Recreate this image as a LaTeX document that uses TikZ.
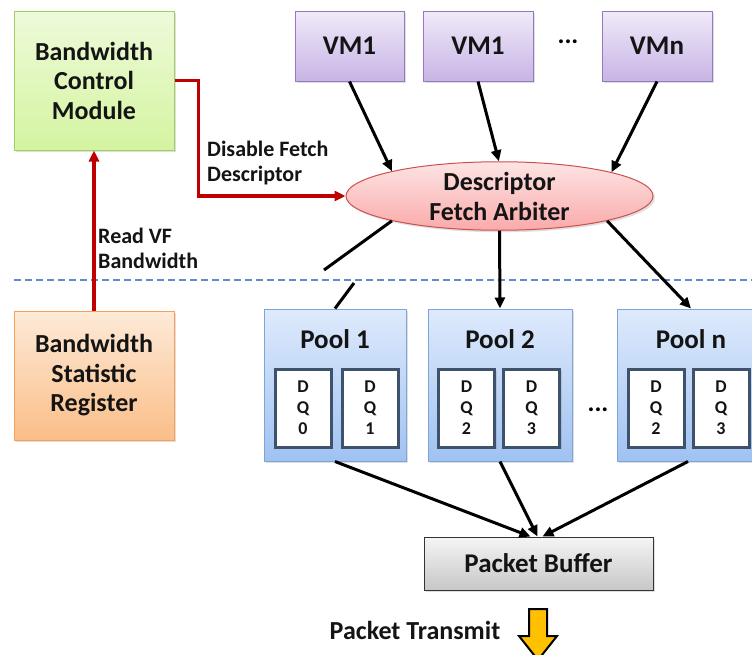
\documentclass[tikz,border=0pt]{standalone}
\usepackage{fontspec}
\setmainfont{Carlito}
\usetikzlibrary{arrows.meta,shapes.geometric,shadows}
\definecolor{gtop}{RGB}{238,250,218}
\definecolor{gbot}{RGB}{212,244,160}
\definecolor{gbrd}{RGB}{160,205,100}
\definecolor{otop}{RGB}{253,234,216}
\definecolor{obot}{RGB}{251,190,136}
\definecolor{obrd}{RGB}{247,160,90}
\definecolor{ptop}{RGB}{240,234,248}
\definecolor{pbot}{RGB}{200,180,230}
\definecolor{pbrd}{RGB}{150,120,190}
\definecolor{rtop}{RGB}{253,228,228}
\definecolor{rbot}{RGB}{250,170,170}
\definecolor{rbrd}{RGB}{205,80,80}
\definecolor{btop}{RGB}{222,234,252}
\definecolor{bbot}{RGB}{160,194,242}
\definecolor{bbrd}{RGB}{125,165,215}
\definecolor{dqbrd}{RGB}{62,82,108}
\definecolor{ctrlred}{RGB}{192,0,0}
\definecolor{dashblue}{RGB}{95,140,205}
\definecolor{yel}{RGB}{255,192,0}
\definecolor{txt}{RGB}{20,20,20}
\tikzset{
  shad/.style={drop shadow={opacity=0.25,shadow xshift=2pt,shadow yshift=-2pt}},
  lbl/.style={font=\fontsize{26}{29.5}\selectfont\bfseries, text=txt, align=center, inner sep=0pt},
  gbox/.style={shad, draw=gbrd, line width=1pt, top color=gtop, bottom color=gbot, minimum width=160pt, minimum height=139pt, lbl},
  obox/.style={shad, draw=obrd, line width=1pt, top color=otop, bottom color=obot, minimum width=160pt, minimum height=129pt, lbl},
  vmbox/.style={shad, draw=pbrd, line width=1pt, top color=ptop, bottom color=pbot, minimum width=110pt, minimum height=70pt, lbl, font=\fontsize{27}{30}\selectfont\bfseries},
  arbiter/.style={shad, ellipse, draw=rbrd, line width=1pt, top color=rtop, bottom color=rbot, minimum width=307pt, minimum height=68pt, lbl, font=\fontsize{26}{30}\selectfont\bfseries},
  poolbox/.style={shad, draw=bbrd, line width=1pt, top color=btop, bottom color=bbot, minimum height=152pt, inner sep=0pt},
  pooltitle/.style={font=\fontsize{27}{30}\selectfont\bfseries, text=txt, inner sep=0pt},
  dqbox/.style={shad, draw=dqbrd, line width=3pt, fill=white, minimum width=56pt, minimum height=78pt, inner sep=0pt, align=center, text=txt, font=\fontsize{18}{21}\selectfont\bfseries},
  pbbox/.style={shad, draw=black!80, line width=1pt, top color=black!4, bottom color=black!22, minimum width=229pt, minimum height=53pt, lbl, font=\fontsize{27}{29}\selectfont\bfseries},
  conn/.style={line width=3pt, -{Triangle[length=11pt,width=10pt]}},
  plain/.style={line width=3pt},
  redconn/.style={draw=ctrlred, line width=3.5pt, -{Triangle[length=11pt,width=10pt]}},
  note/.style={font=\fontsize{22}{25}\selectfont\bfseries, text=txt, align=left, inner sep=0pt},
  dotsl/.style={font=\fontsize{26}{28}\selectfont\bfseries, inner sep=0pt}
}
\begin{document}
\begin{tikzpicture}[x=1pt,y=-1pt]
\clip (0,0) rectangle (752,654);
\fill[white] (0,0) rectangle (752,654);
% left column
\node[gbox] (bcm) at (94,80.5) {Bandwidth\\Control\\Module};
\node[obox] (bsr) at (94,375.5) {Bandwidth\\Statistic\\Register};
% VMs
\node[vmbox, minimum width=109pt] (vma) at (349.5,46) {VM1};
\node[vmbox] (vmb) at (478,46) {VM1};
\node[vmbox] (vmn) at (657,46) {VMn};
\node[dotsl] (vdots) at (568,42) {...};
% arbiter
\node[arbiter] (arb) at (499.5,196) {Descriptor\\Fetch Arbiter};
% dashed separator
\coordinate (sepl) at (14,280);
\coordinate (sepr) at (752,280);
\draw[dashblue, line width=1.6pt, dash pattern=on 7pt off 4pt] (sepl) -- (sepr);
% pools
\node[poolbox, minimum width=142pt] (pool1) at (335,385) {};
\node[poolbox, minimum width=144pt] (pool2) at (500,385) {};
\node[poolbox, minimum width=148pt] (pooln) at (691,385) {};
\node[pooltitle] (p1t) at (335,339) {Pool 1};
\node[pooltitle] (p2t) at (500,339) {Pool 2};
\node[pooltitle] (pnt) at (691,339) {Pool n};
\node[dqbox] (dq0) at (303,408) {D\\Q\\0};
\node[dqbox] (dq1) at (370,408) {D\\Q\\1};
\node[dqbox] (dq2) at (466.5,408) {D\\Q\\2};
\node[dqbox] (dq3) at (531.5,408) {D\\Q\\3};
\node[dqbox] (dqn2) at (656,408) {D\\Q\\2};
\node[dqbox] (dqn3) at (721,408) {D\\Q\\3};
\node[dotsl] (pdots) at (598,410) {...};
% packet buffer
\node[pbbox] (pb) at (538.5,563.5) {Packet Buffer};
\node[lbl] (ptx) at (415,630) {Packet Transmit};
\fill[yel, draw=black, line width=2pt] (529,609) -- (547,609) -- (547,636) -- (557,636) -- (538,660) -- (519,636) -- (529,636) -- cycle;
% VM arrows
\draw[conn] (vma.south) -- (arb.167);
\draw[conn] (vmb.south) -- (arb.91);
\draw[conn] (vmn.south) -- (arb.12);
% arbiter to pools
\coordinate (brk1) at (324,270);
\coordinate (brk2) at (354,283);
\draw[plain] (arb.193) -- (brk1);
\draw[plain] (brk2) -- (pool1.north);
\draw[conn] (arb.south) -- (pool2.north);
\draw[conn] (arb.347) -- (pooln.north);
% pools to buffer
\draw[conn] (pool1.south) -- ([xshift=-8pt]pb.north);
\draw[conn] (pool2.south) -- ([xshift=-1pt]pb.north);
\draw[conn] ([xshift=-3pt]pooln.south) -- ([xshift=4pt]pb.north);
% red control
\draw[redconn] (bcm.east) -- ++(24,0) |- (arb.west);
\draw[redconn] (bsr.north) -- (bcm.south);
\node[note, anchor=west] (dfd) at (207,163) {Disable Fetch\\Descriptor};
\node[note, anchor=west] (rvb) at (98,248) {Read VF\\Bandwidth};
\end{tikzpicture}
\end{document}
